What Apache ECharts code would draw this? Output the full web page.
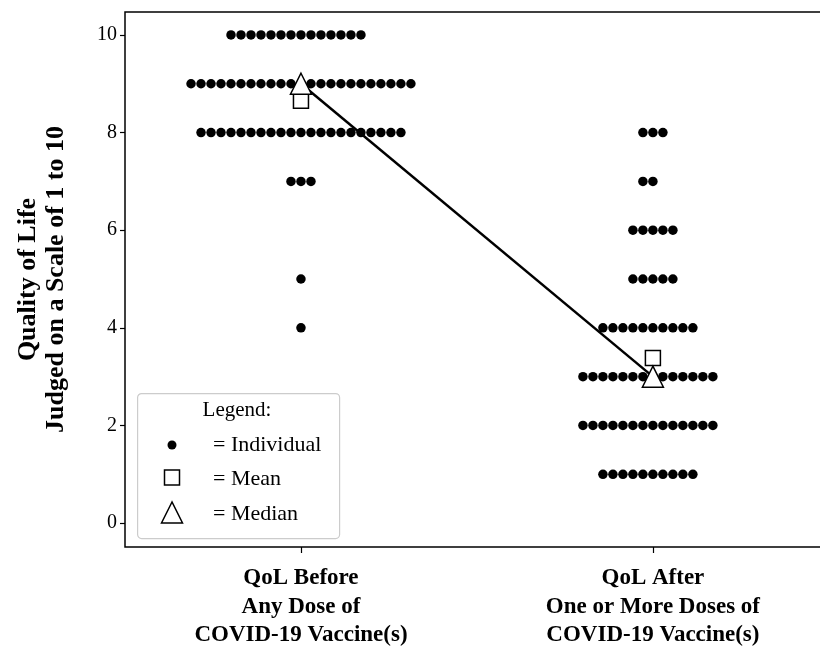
<!DOCTYPE html>
<html>
<head>
<meta charset="utf-8">
<script src="https://cdn.jsdelivr.net/npm/echarts@6/dist/echarts.min.js"></script>
<style>html,body{margin:0;padding:0;background:#fff}#c{width:820px;height:649px}</style>
</head>
<body>
<div id="c"></div>
<script>
// ---- data ----
const categories = [
  'QoL Before\nAny Dose of\nCOVID-19 Vaccine(s)',
  'QoL After\nOne or More Doses of\nCOVID-19 Vaccine(s)'
];
const scoreLevels   = [1, 2, 3, 4, 5, 6, 7, 8, 9, 10];
const beforeCounts  = [0, 0, 0, 1, 1, 0, 3, 21, 23, 14];   // number of individuals per score
const afterCounts   = [10, 14, 14, 10, 5, 5, 2, 3, 0, 0];
const meanValues    = [8.65, 3.38];
const medianValues  = [9, 3];
const yTicks        = [0, 2, 4, 6, 8, 10];
const xTickPositions = [0, 1];

// ---- build swarm points (each individual is one dot) ----
const DOT_STEP = 0.0284; // horizontal step between neighbouring dots, in x-axis units
function swarm(counts, center) {
  const pts = [];
  counts.forEach((n, idx) => {
    const half = Math.floor(n / 2);
    for (let i = 0; i < n; i++) pts.push([center + (i - half) * DOT_STEP, scoreLevels[idx]]);
  });
  return pts;
}
const individuals = swarm(beforeCounts, 0).concat(swarm(afterCounts, 1));

const SERIF = '"Liberation Serif", "DejaVu Serif", serif';
const chart = echarts.init(document.getElementById('c'), null, {renderer: 'canvas'});
chart.setOption({
  animation: false,
  backgroundColor: '#fff',
  grid: {left: 125, top: 12, width: 700, bottom: 102, outerBoundsMode: 'none', containLabel: false,
         show: true, borderColor: '#000', borderWidth: 1.5, backgroundColor: 'transparent'},
  xAxis: {
    type: 'value', min: -0.5, max: 1.489,
    splitLine: {show: false},
    axisLine: {show: false, onZero: false},
    axisTick: {show: true, length: 6, lineStyle: {color: '#000', width: 1.2}, customValues: xTickPositions},
    axisLabel: {
      customValues: xTickPositions,
      formatter: v => categories[Math.round(v)],
      color: '#000', fontFamily: SERIF, fontWeight: 'bold', fontSize: 23, lineHeight: 28.5, margin: 17
    }
  },
  yAxis: {
    type: 'value', min: -0.49, max: 10.47,
    name: 'Quality of Life\nJudged on a Scale of 1 to 10',
    nameLocation: 'middle', nameRotate: 90, nameGap: 55,
    nameTextStyle: {color: '#000', fontFamily: SERIF, fontWeight: 'bold', fontSize: 26, lineHeight: 28},
    splitLine: {show: false},
    axisLine: {show: false, onZero: false},
    axisTick: {show: true, length: 5, lineStyle: {color: '#000', width: 1.2}, customValues: yTicks},
    axisLabel: {customValues: yTicks, color: '#000', fontFamily: SERIF, fontSize: 20, margin: 8}
  },
  series: [
    {
      name: 'Individual', type: 'scatter', data: individuals,
      symbol: 'circle', symbolSize: 9.5, itemStyle: {color: '#000', opacity: 1}, z: 2
    },
    {
      name: 'Median line', type: 'line', data: xTickPositions.map((x, i) => [x, medianValues[i]]),
      showSymbol: false, lineStyle: {color: '#000', width: 2.5}, z: 3
    },
    {
      name: 'Mean', type: 'scatter', data: xTickPositions.map((x, i) => [x, meanValues[i]]),
      symbol: 'rect', symbolSize: 15, itemStyle: {color: '#fff', borderColor: '#000', borderWidth: 1.5, opacity: 1}, z: 4
    },
    {
      name: 'Median', type: 'scatter', data: xTickPositions.map((x, i) => [x, medianValues[i]]),
      symbol: 'triangle', symbolSize: [21, 21], itemStyle: {color: '#fff', borderColor: '#000', borderWidth: 1.5, opacity: 1}, z: 5
    }
  ],
  graphic: [
    {type: 'rect', left: 137, top: 393, z: 100, shape: {width: 202, height: 145, r: 4},
     style: {fill: 'rgba(255,255,255,0.85)', stroke: '#cccccc', lineWidth: 1.2}},
    {type: 'text', x: 237, y: 410, z: 101, style: {text: 'Legend:', fill: '#000', font: '21px ' + SERIF, textAlign: 'center', textVerticalAlign: 'middle'}},
    {type: 'circle', z: 101, shape: {cx: 172, cy: 445, r: 4.5}, style: {fill: '#000'}},
    {type: 'text', x: 213, y: 445, z: 101, style: {text: '= Individual', fill: '#000', font: '22px ' + SERIF, textVerticalAlign: 'middle'}},
    {type: 'rect', z: 101, shape: {x: 164.5, y: 470, width: 15, height: 15}, style: {fill: '#fff', stroke: '#000', lineWidth: 1.5}},
    {type: 'text', x: 213, y: 479, z: 101, style: {text: '= Mean', fill: '#000', font: '22px ' + SERIF, textVerticalAlign: 'middle'}},
    {type: 'polygon', z: 101, shape: {points: [[172, 502], [161.5, 523], [182.5, 523]]}, style: {fill: '#fff', stroke: '#000', lineWidth: 1.5}},
    {type: 'text', x: 213, y: 514, z: 101, style: {text: '= Median', fill: '#000', font: '22px ' + SERIF, textVerticalAlign: 'middle'}}
  ]
});
</script>
</body>
</html>
